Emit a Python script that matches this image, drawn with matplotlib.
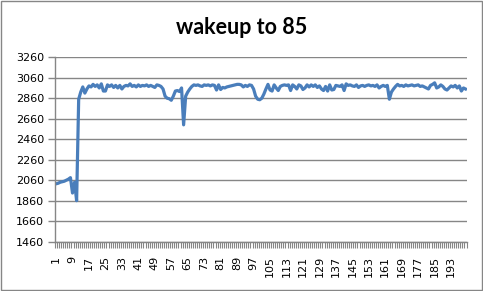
import matplotlib
matplotlib.use('Agg')
import matplotlib.pyplot as plt
from matplotlib.patches import Rectangle
import numpy as np

title = 'wakeup to 85'

# wakeup times, one value per run
values = [
    2025, 2030, 2040, 2045, 2050, 2060, 2070, 2085, 1935, 2040,
    1860, 2850, 2920, 2970, 2910, 2950, 2980, 2970, 2995, 2975,
    2990, 2960, 3000, 2930, 2930, 2990, 2975, 2990, 2965, 2985,
    2960, 2985, 2950, 2975, 2985, 2980, 3000, 2975, 2985, 2970,
    2990, 2975, 2985, 2980, 2990, 2975, 2985, 2975, 2965, 2990,
    2985, 2975, 2950, 2880, 2860, 2855, 2840, 2880, 2930, 2935,
    2925, 2960, 2600, 2880, 2920, 2950, 2975, 2990, 2985, 2990,
    2980, 2975, 2990, 2985, 2990, 2980, 2990, 2985, 2940, 2990,
    2945, 2965, 2960, 2970, 2975, 2980, 2985, 2990, 2995, 2995,
    2990, 2970, 2985, 2975, 2990, 2985, 2950, 2880, 2850, 2845,
    2860, 2900, 2950, 2995, 2940, 2930, 2990, 2960, 2935, 2975,
    2985, 2990, 2985, 2990, 2935, 2990, 2975, 2950, 2990, 2980,
    2945, 2960, 2990, 2970, 2990, 2975, 2990, 2965, 2980, 2950,
    2935, 2975, 2930, 2990, 2940, 2945, 2985, 2980, 2975, 2990,
    2935, 3000, 2985, 2990, 2980, 2975, 2990, 2965, 2980, 2985,
    2975, 2985, 2990, 2980, 2985, 2975, 2990, 2960, 2975, 2985,
    2975, 2985, 2850, 2920, 2950, 2975, 2995, 2980, 2985, 2975,
    2990, 2980, 2985, 2990, 2980, 2985, 2990, 2975, 2980, 2970,
    2960, 2950, 2985, 2995, 3010, 2960, 2970, 2990, 2975, 2950,
    2940, 2960, 2980, 2970, 2985, 2960, 2980, 2930, 2960, 2950,
]
runs = list(range(1, len(values) + 1))
y_ticks = list(range(1460, 3261, 200))
x_labels = runs[::8]

grid_col = '#868686'
line_col = '#4A7EBB'

fig = plt.figure(figsize=(4.83, 2.91), dpi=100)
fig.patches.append(Rectangle((0.002, 0.003), 0.995, 0.994, transform=fig.transFigure,
                             fill=False, edgecolor=grid_col, linewidth=1))
ax = fig.add_axes([0.1139, 0.1694, 0.852, 0.634])

ax.plot(runs, values, color=line_col, linewidth=2.3, solid_joinstyle='round')

ax.set_xlim(0.5, len(values) + 0.5)
ax.set_ylim(1460, 3260)
ax.set_yticks(y_ticks)
ax.set_yticklabels([str(v) for v in y_ticks], fontsize=8)
ax.yaxis.grid(True, color=grid_col, linewidth=1)
ax.set_axisbelow(True)

ax.set_xticks(x_labels)
ax.set_xticklabels([str(v) for v in x_labels], rotation=90, fontsize=8)
ax.set_xticks(np.arange(0.5, len(values) + 1, 1), minor=True)
ax.tick_params(axis='x', which='major', length=0, pad=10)
ax.tick_params(axis='x', which='minor', length=4, color=grid_col, width=0.8)
ax.tick_params(axis='y', length=5, color=grid_col, width=1, pad=3)

for side in ['top', 'right']:
    ax.spines[side].set_visible(False)
for side in ['left', 'bottom']:
    ax.spines[side].set_color(grid_col)
    ax.spines[side].set_linewidth(1)

fig.text(0.5, 0.905, title, ha='center', va='center', fontsize=15.5,
         fontweight='bold', family='Lato')

fig.savefig('out.png', dpi=100)
